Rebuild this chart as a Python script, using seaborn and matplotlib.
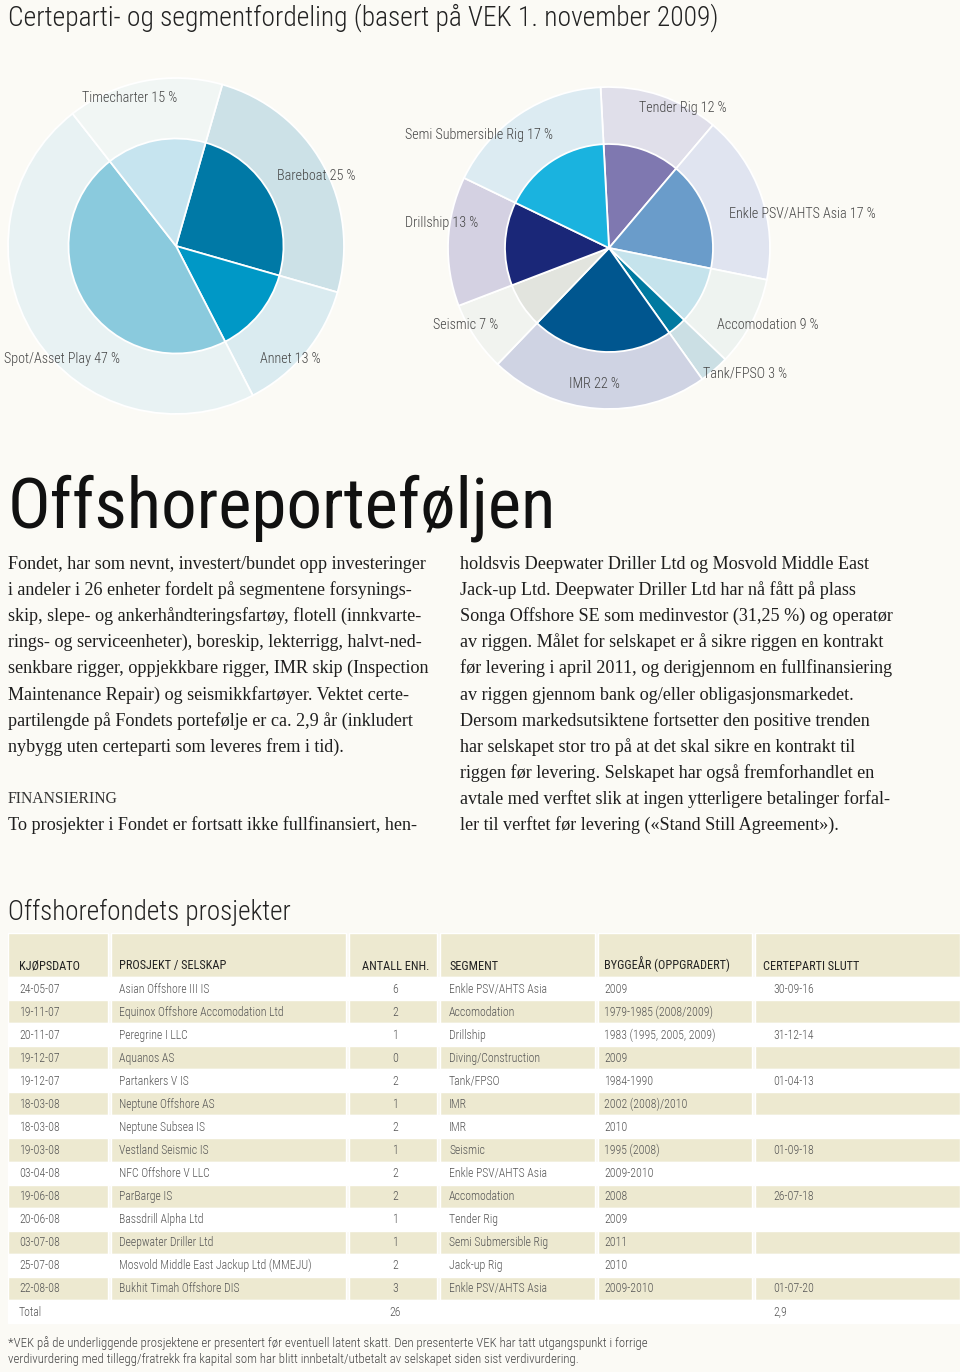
import matplotlib
matplotlib.use("Agg")
import matplotlib.pyplot as plt
from matplotlib import font_manager as fm
import seaborn as sns

# =========================
# DATA
# =========================
title_top = "Certeparti- og segmentfordeling (basert på VEK 1. november 2009)"
heading = "Offshoreporteføljen"
table_title = "Offshorefondets prosjekter"

charter_labels = ["Bareboat", "Annet", "Spot/Asset Play", "Timecharter"]
charter_share = [25, 13, 47, 15]

segment_labels = ["Tender Rig", "Enkle PSV/AHTS Asia", "Accomodation", "Tank/FPSO",
                  "IMR", "Seismic", "Drillship", "Semi Submersible Rig"]
segment_share = [12, 17, 9, 3, 22, 7, 13, 17]

text_left = [
    "Fondet, har som nevnt, investert/bundet opp investeringer",
    "i andeler i 26 enheter fordelt på segmentene forsynings-",
    "skip, slepe- og ankerhåndteringsfartøy, flotell (innkvarte-",
    "rings- og serviceenheter), boreskip, lekterrigg, halvt-ned-",
    "senkbare rigger, oppjekkbare rigger, IMR skip (Inspection",
    "Maintenance Repair) og seismikkfartøyer. Vektet certe-",
    "partilengde på Fondets portefølje er ca. 2,9 år (inkludert",
    "nybygg uten certeparti som leveres frem i tid).",
]
subhead = "FINANSIERING"
text_left2 = "To prosjekter i Fondet er fortsatt ikke fullfinansiert, hen-"
text_right = [
    "holdsvis Deepwater Driller Ltd og Mosvold Middle East",
    "Jack-up Ltd. Deepwater Driller Ltd har nå fått på plass",
    "Songa Offshore SE som medinvestor (31,25 %) og operatør",
    "av riggen. Målet for selskapet er å sikre riggen en kontrakt",
    "før levering i april 2011, og derigjennom en fullfinansiering",
    "av riggen gjennom bank og/eller obligasjonsmarkedet.",
    "Dersom markedsutsiktene fortsetter den positive trenden",
    "har selskapet stor tro på at det skal sikre en kontrakt til",
    "riggen før levering. Selskapet har også fremforhandlet en",
    "avtale med verftet slik at ingen ytterligere betalinger forfal-",
    "ler til verftet før levering («Stand Still Agreement»).",
]

col_headers = ["KJØPSDATO", "PROSJEKT / SELSKAP", "ANTALL ENH.", "SEGMENT",
               "BYGGEÅR (OPPGRADERT)", "CERTEPARTI SLUTT"]
kjopsdato = ["24-05-07", "19-11-07", "20-11-07", "19-12-07", "19-12-07", "18-03-08",
             "18-03-08", "19-03-08", "03-04-08", "19-06-08", "20-06-08", "03-07-08",
             "25-07-08", "22-08-08"]
prosjekt = ["Asian Offshore III IS", "Equinox Offshore Accomodation Ltd", "Peregrine I LLC",
            "Aquanos AS", "Partankers V IS", "Neptune Offshore AS", "Neptune Subsea IS",
            "Vestland Seismic IS", "NFC Offshore V LLC", "ParBarge IS", "Bassdrill Alpha Ltd",
            "Deepwater Driller Ltd", "Mosvold Middle East Jackup Ltd (MMEJU)",
            "Bukhit Timah Offshore DIS"]
antall = [6, 2, 1, 0, 2, 1, 2, 1, 2, 2, 1, 1, 2, 3]
segment = ["Enkle PSV/AHTS Asia", "Accomodation", "Drillship", "Diving/Construction",
           "Tank/FPSO", "IMR", "IMR", "Seismic", "Enkle PSV/AHTS Asia", "Accomodation",
           "Tender Rig", "Semi Submersible Rig", "Jack-up Rig", "Enkle PSV/AHTS Asia"]
byggear = ["2009", "1979-1985 (2008/2009)", "1983 (1995, 2005, 2009)", "2009", "1984-1990",
           "2002 (2008)/2010", "2010", "1995 (2008)", "2009-2010", "2008", "2009", "2011",
           "2010", "2009-2010"]
cp_slutt = ["30-09-16", "", "31-12-14", "", "01-04-13", "", "", "01-09-18", "", "26-07-18",
            "", "", "", "01-07-20"]
total_label = "Total"
total_cp = "2,9"

footnote = [
    "*VEK på de underliggende prosjektene er presentert før eventuell latent skatt. "
    "Den presenterte VEK har tatt utgangspunkt i forrige",
    "verdivurdering med tillegg/fratrekk fra kapital som har blitt innbetalt/utbetalt "
    "av selskapet siden sist verdivurdering.",
]

# =========================
# STYLE
# =========================
BG = "#FBFAF5"
BEIGE = "#EDE9D0"
charter_inner = ["#0079A6", "#0098C6", "#8ACADD", "#C6E4EF"]
charter_outer = ["#CCE1E7", "#DAEBF0", "#E8F2F3", "#F1F6F4"]
segment_inner = ["#7F78B0", "#6A9CCA", "#C5E3EC", "#0079A0",
                 "#00568F", "#E2E4DE", "#1A2778", "#1AB3DF"]
segment_outer = ["#E0DFEA", "#E0E4F0", "#EEF3F0", "#CBDFE4",
                 "#CFD3E3", "#F1F3EF", "#D4D1E2", "#DCEBF2"]

sns.set_theme(style="white")
names = {f.name for f in fm.fontManager.ttflist}
SANS = next((n for n in ["Roboto Condensed", "Open Sans Condensed", "Noto Sans Condensed",
                         "Liberation Sans Narrow", "Lato"] if n in names), "DejaVu Sans")
SERIF = "Liberation Serif" if "Liberation Serif" in names else "DejaVu Serif"
plt.rcParams["font.family"] = [SANS, "DejaVu Sans"]

W, H = 960, 1372
fig = plt.figure(figsize=(W / 100, H / 100), dpi=100, facecolor=BG)
page = fig.add_axes([0, 0, 1, 1])
page.set_xlim(0, W)
page.set_ylim(H, 0)
page.axis("off")
page.set_zorder(3)
renderer = fig.canvas.get_renderer()


def fit(t, width_px):
    w = t.get_window_extent(renderer).width
    t.set_fontsize(t.get_fontsize() * width_px / w)
    return t.get_fontsize()


def put(x, y, s, **kw):
    kw.setdefault("va", "baseline")
    return page.text(x, y, s, **kw)


# =========================
# TITLES
# =========================
t = put(8, 26, title_top, color="#222222", fontsize=20, fontweight="light")
fit(t, 709)
t = put(8, 528, heading, color="#111111", fontsize=60)
fit(t, 549)
t = put(8, 920, table_title, color="#222222", fontsize=18, fontweight="light")
fit(t, 284)

# =========================
# PIES
# =========================
def pie_axes(cx, cy, r):
    ax = fig.add_axes([(cx - r) / W, 1 - (cy + r) / H, 2 * r / W, 2 * r / H])
    ax.set_zorder(1)
    return ax


wp = dict(edgecolor="white", linewidth=1.3)
ax1 = pie_axes(176, 246, 168)
ax1.pie(charter_share, colors=charter_outer, startangle=74, counterclock=False,
        radius=1, wedgeprops=wp)
ax1.pie(charter_share, colors=charter_inner, startangle=74, counterclock=False,
        radius=0.64, wedgeprops=wp)
ax1.set_xlim(-1, 1)
ax1.set_ylim(-1, 1)

ax2 = pie_axes(609, 248, 161)
ax2.pie(segment_share, colors=segment_outer, startangle=93, counterclock=False,
        radius=1, wedgeprops=wp)
ax2.pie(segment_share, colors=segment_inner, startangle=93, counterclock=False,
        radius=0.646, wedgeprops=wp)
ax2.set_xlim(-1, 1)
ax2.set_ylim(-1, 1)

label_pos = {
    "Timecharter": (82, 102), "Bareboat": (277, 180), "Annet": (260, 363),
    "Spot/Asset Play": (4, 363),
    "Tender Rig": (639, 112), "Enkle PSV/AHTS Asia": (729, 217),
    "Accomodation": (717, 329), "Tank/FPSO": (703, 377), "IMR": (569, 388),
    "Seismic": (433, 329), "Drillship": (405, 227), "Semi Submersible Rig": (405, 139),
}
ref = put(0, -50, "Enkle PSV/AHTS Asia 17 %", fontsize=10, fontweight="light")
lab_fs = fit(ref, 147)
ref.remove()
for labs, vals in [(charter_labels, charter_share), (segment_labels, segment_share)]:
    for lab, v in zip(labs, vals):
        x, y = label_pos[lab]
        put(x, y, f"{lab} {v} %", color="#444444", fontsize=lab_fs, fontweight="light")

# =========================
# BODY TEXT
# =========================
t = put(8, 569, text_left[0], family=SERIF, color="#1E1E1E", fontsize=12)
body_fs = fit(t, 419)
for i, line in enumerate(text_left[1:], start=1):
    put(8, 569 + 26.1 * i, line, family=SERIF, color="#1E1E1E", fontsize=body_fs)
t = put(8, 803, subhead, family=SERIF, color="#333333", fontsize=8)
fit(t, 110)
put(8, 830, text_left2, family=SERIF, color="#1E1E1E", fontsize=body_fs)
for i, line in enumerate(text_right):
    put(460, 569 + 26.1 * i, line, family=SERIF, color="#1E1E1E", fontsize=body_fs)

# =========================
# TABLE
# =========================
col_x = [8, 111, 349, 440, 598, 755]
col_w = [100, 235, 88, 155, 154, 205]
text_x = [19, 119, None, 449, 604, 773]
head_x = [19, 119, 362, 449, 604, 763]
antall_cx = 395
row0, row_h = 977, 23.07

page.barh([955], col_w, left=col_x, height=44, color=BEIGE)

rows = list(zip(kjopsdato, prosjekt, antall, segment, byggear, cp_slutt))
rows.append((total_label, "", sum(antall), "", "", total_cp))
for i in range(len(rows)):
    yc = row0 + row_h * (i + 0.5)
    if i % 2 == 0:
        page.barh([yc], [W - 8], left=[8], height=row_h, color="white")
    else:
        page.barh([yc] * 6, col_w, left=col_x, height=row_h, color=BEIGE)

ref = put(0, -50, "Equinox Offshore Accomodation Ltd", fontsize=8, fontweight="light")
tab_fs = fit(ref, 166)
ref.remove()
ref = put(0, -50, "BYGGEÅR (OPPGRADERT)", fontsize=8)
head_fs = fit(ref, 126)
ref.remove()

for x, h in zip(head_x, col_headers):
    put(x, 969.5, h, color="#222222", fontsize=head_fs)

for i, r in enumerate(rows):
    yb = row0 + row_h * (i + 0.5) + 4
    for j, val in enumerate(r):
        if j == 2:
            put(antall_cx, yb, str(val), ha="center", color="#555555",
                fontsize=tab_fs, fontweight="light")
        elif val != "":
            put(text_x[j], yb, val, color="#555555", fontsize=tab_fs, fontweight="light")

# =========================
# FOOTNOTE
# =========================
t = put(8, 1347, footnote[0], color="#444444", fontsize=8, fontweight="light")
fn_fs = fit(t, 643)
put(8, 1363, footnote[1], color="#444444", fontsize=fn_fs, fontweight="light")

fig.savefig("out.png", dpi=100, facecolor=BG)
